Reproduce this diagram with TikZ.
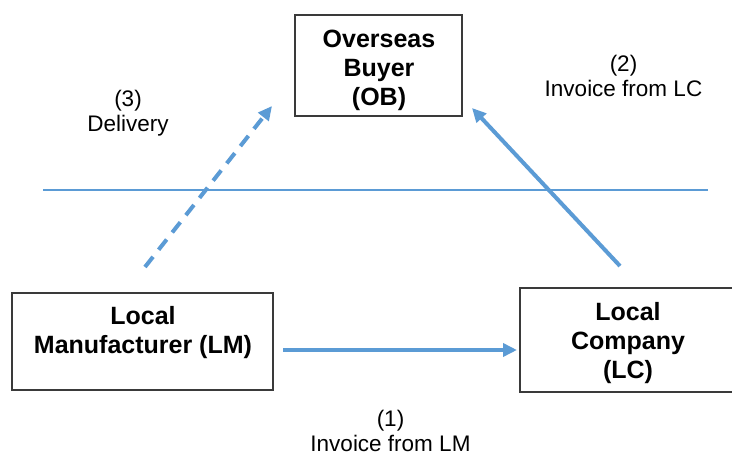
\documentclass[tikz,border=0pt]{standalone}
\usepackage{fontspec}
\setmainfont{Liberation Sans}
\usetikzlibrary{arrows.meta}
\definecolor{arrowblue}{HTML}{5B9BD5}
\definecolor{boxgray}{HTML}{3A3A3A}
\begin{document}
\begin{tikzpicture}[x=1pt,y=-1pt,
  boxshape/.style={draw=boxgray, line width=1.3pt, inner sep=0pt, fill=white},
  boxtext/.style={font=\fontsize{25}{29}\selectfont\bfseries, align=center, inner sep=0pt},
  labeltext/.style={font=\fontsize{22.5}{25}\selectfont, align=center, inner sep=0pt},
  flow/.style={draw=arrowblue, line width=4pt, -{Triangle[length=14pt,width=13pt]}},
  dashedflow/.style={flow, dash pattern=on 13pt off 9pt},
  divider/.style={draw=arrowblue, line width=1.2pt}]
\clip (0,0) rectangle (732,457);
\fill[white] (0,0) rectangle (732,457);
% divider
\coordinate (divl) at (43,190);
\coordinate (divr) at (708,190);
\draw[divider] (divl) -- (divr);
% boxes
\node[boxshape, minimum width=167pt, minimum height=101pt] (ob) at (378.5,65.5) {};
\node[boxtext] (obt) at (379,70) {Overseas\\Buyer\\(OB)};
\node[boxshape, minimum width=261pt, minimum height=97pt] (lm) at (142.5,341.5) {};
\node[boxtext] (lmt) at (143,333) {Local\\Manufacturer (LM)};
\node[boxshape, minimum width=216pt, minimum height=104pt] (lc) at (628,340) {};
\node[boxtext] (lct) at (628,343) {Local\\Company\\(LC)};
% labels
\node[labeltext] (l3) at (128,113) {(3)\\Delivery};
\node[labeltext] (l2) at (623.5,76) {(2)\\Invoice from LC};
\node[labeltext] (l1) at (390.5,431) {(1)\\Invoice from LM};
% connectors
\coordinate (lmout) at (283,350);
\coordinate (lcin) at (517,350);
\coordinate (lmup) at (145,267);
\coordinate (obinl) at (272,106);
\coordinate (lcup) at (620,266);
\coordinate (obinr) at (472,108);
\draw[flow] (lmout) -- (lcin);
\draw[dashedflow] (lmup) -- (obinl);
\draw[flow] (lcup) -- (obinr);
\end{tikzpicture}
\end{document}
